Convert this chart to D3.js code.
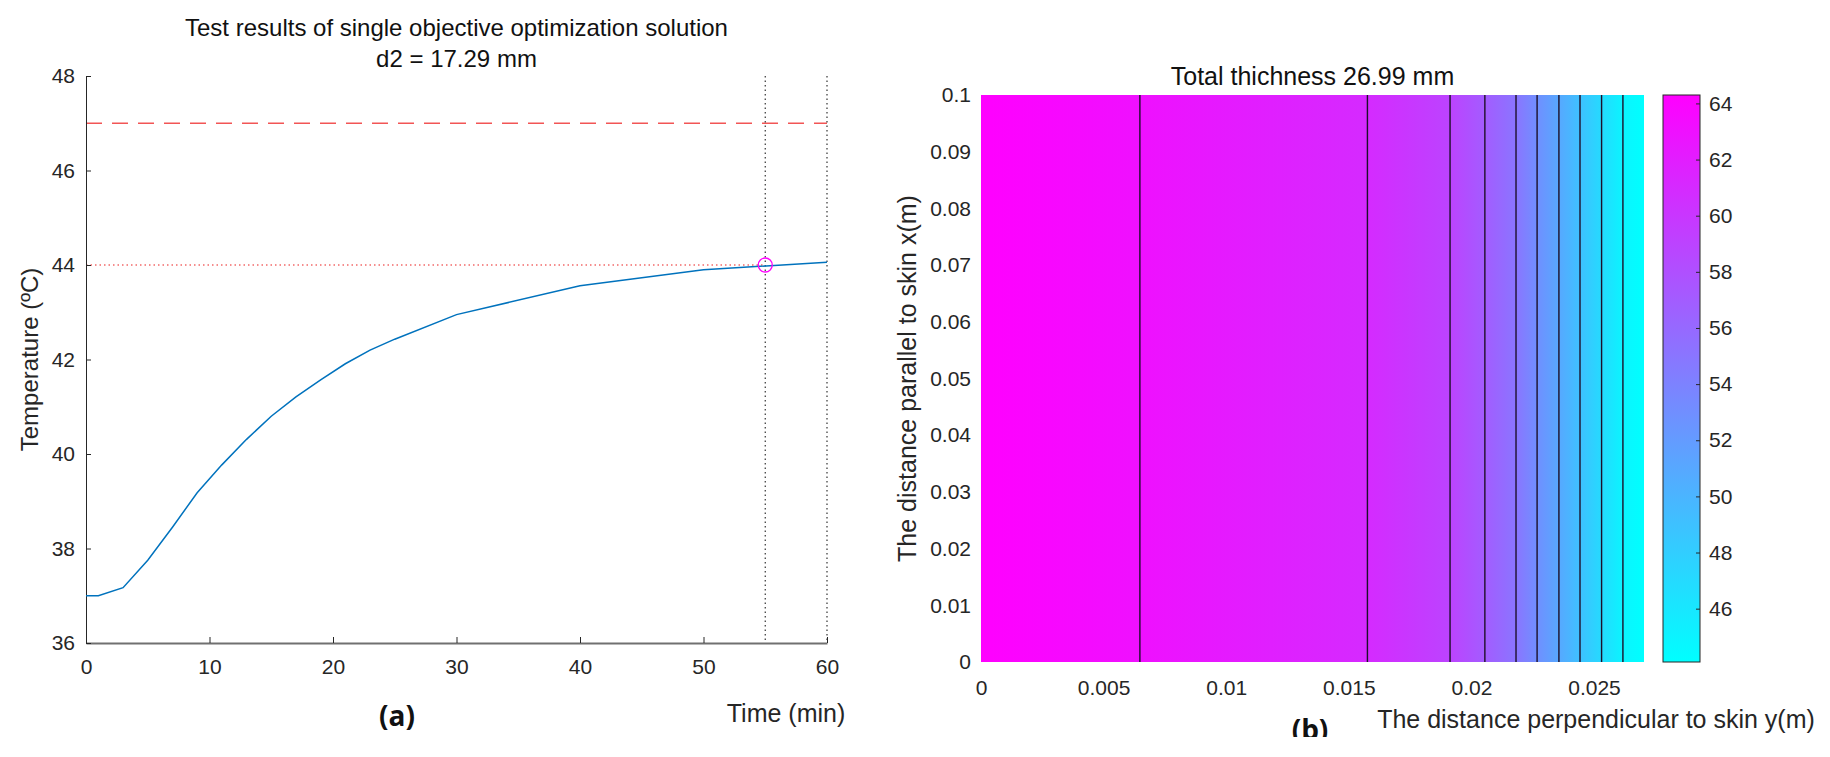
<!DOCTYPE html>
<html>
<head>
<meta charset="utf-8">
<script src="https://cdn.jsdelivr.net/npm/d3@7"></script>
<style>
body { margin:0; background:#fff; }
svg text { font-family:"Liberation Sans", Arial, sans-serif; }
</style>
</head>
<body>
<svg id="fig" width="1830" height="757"></svg>
<script>
// ---- panel (a) data
const times = [0, 1, 3, 5, 7, 9, 11, 13, 15, 17, 19, 21, 23, 25, 30, 40, 50, 60];
const temps = [37.0, 37.0, 37.17, 37.75, 38.45, 39.18, 39.77, 40.31, 40.8, 41.21, 41.57, 41.91, 42.2, 42.43, 42.95, 43.56, 43.9, 44.06];
const timeTicks = [0, 10, 20, 30, 40, 50, 60];
const tempTicks = [36, 38, 40, 42, 44, 46, 48];
const limitTemp = 47;
const targetTemp = 44;
const targetTime = 55;
const endTime = 60;

// ---- panel (b) data
const depthTicks = [0, 0.005, 0.01, 0.015, 0.02, 0.025];
const heightTicks = [0, 0.01, 0.02, 0.03, 0.04, 0.05, 0.06, 0.07, 0.08, 0.09, 0.1];
const contourPos = [0.00648, 0.01576, 0.01913, 0.02055, 0.02182, 0.02268, 0.02357, 0.02443, 0.02531, 0.02618];
const contourLevels = [63, 61, 59, 57, 55, 53, 51, 49, 47, 45];
const edgePos = [0, 0.02704];
const edgeTemp = [64.3, 44.1];
const colorTicks = [46, 48, 50, 52, 54, 56, 58, 60, 62, 64];

const svg = d3.select("#fig");
const defs = svg.append("defs");

function styleTicks(g, size) {
  g.selectAll("text").attr("font-size", size).attr("fill", "#262626")
    .attr("font-family", "Liberation Sans, Arial, sans-serif");
  g.selectAll("line").attr("stroke", "#262626");
}

// ================= panel (a)
const a = {left:86, right:827, top:76, bottom:643};
const x = d3.scaleLinear().domain([0, 60]).range([a.left, a.right]);
const y = d3.scaleLinear().domain([36, 48]).range([a.bottom, a.top]);
const midA = (a.left + a.right) / 2;

// title
svg.append("text").attr("x", midA).attr("y", 36).attr("text-anchor", "middle")
  .attr("font-size", 24).attr("fill", "#111")
  .text("Test results of single objective optimization solution");
svg.append("text").attr("x", midA).attr("y", 67).attr("text-anchor", "middle")
  .attr("font-size", 24).attr("fill", "#111")
  .text("d2 = 17.29 mm");

// reference lines
svg.append("line")
  .attr("x1", x(0)).attr("x2", x(endTime))
  .attr("y1", y(limitTemp)).attr("y2", y(limitTemp))
  .attr("stroke", "#f25555").attr("stroke-width", 1.3).attr("stroke-dasharray", "16,10");
svg.append("line")
  .attr("x1", x(0)).attr("x2", x(targetTime))
  .attr("y1", y(targetTemp)).attr("y2", y(targetTemp))
  .attr("stroke", "#f26a6a").attr("stroke-width", 1.3).attr("stroke-dasharray", "1.5,3");
[targetTime, endTime].forEach(t => {
  svg.append("line")
    .attr("x1", x(t)).attr("x2", x(t))
    .attr("y1", y(48)).attr("y2", y(36))
    .attr("stroke", "#333").attr("stroke-width", 1.2).attr("stroke-dasharray", "1.5,3");
});

// axes
const xAxisA = svg.append("g")
  .attr("transform", `translate(0,${a.bottom})`)
  .call(d3.axisBottom(x).tickValues(timeTicks).tickSizeInner(-6).tickSizeOuter(0).tickPadding(16));
const yAxisA = svg.append("g")
  .attr("transform", `translate(${a.left},0)`)
  .call(d3.axisLeft(y).tickValues(tempTicks).tickSizeInner(-5).tickSizeOuter(0).tickPadding(11));
styleTicks(xAxisA, 21);
styleTicks(yAxisA, 21);
yAxisA.select(".domain").attr("stroke", "#262626");
xAxisA.select(".domain").attr("stroke", "#707070").attr("stroke-width", 2);

// curve
const line = d3.line().x((d, i) => x(times[i])).y(d => y(d));
svg.append("path").datum(temps)
  .attr("d", line).attr("fill", "none")
  .attr("stroke", "#0072BD").attr("stroke-width", 1.5);

// target marker
svg.append("circle")
  .attr("cx", x(targetTime)).attr("cy", y(targetTemp)).attr("r", 7)
  .attr("fill", "none").attr("stroke", "#ff00ff").attr("stroke-width", 1.3);

// labels
svg.append("text")
  .attr("transform", `translate(38,${(a.top + a.bottom) / 2}) rotate(-90)`)
  .attr("text-anchor", "middle").attr("font-size", 24).attr("fill", "#262626")
  .text("Temperature (ºC)");
svg.append("text").attr("x", 786).attr("y", 722).attr("text-anchor", "middle")
  .attr("font-size", 25).attr("fill", "#262626").text("Time (min)");
svg.append("text").attr("x", 397).attr("y", 726).attr("text-anchor", "middle")
  .attr("font-size", 28).attr("font-weight", "bold").attr("fill", "#111")
  .style("font-family", "'Open Sans', 'Noto Sans', sans-serif").text("(a)");

// ================= panel (b)
const b = {left:981, right:1644, top:95, bottom:662};
const xb = d3.scaleLinear().domain(edgePos).range([b.left, b.right]);
const yb = d3.scaleLinear().domain([0, 0.1]).range([b.bottom, b.top]);
// MATLAB "cool" colormap
const color = d3.scaleLinear().domain([edgeTemp[1], edgeTemp[0]]).range(["#00ffff", "#ff00ff"]);

const grad = defs.append("linearGradient").attr("id", "surf")
  .attr("gradientUnits", "userSpaceOnUse")
  .attr("x1", xb(edgePos[0])).attr("x2", xb(edgePos[1])).attr("y1", 0).attr("y2", 0);
const stopPos = [edgePos[0], ...contourPos, edgePos[1]];
const stopTemp = [edgeTemp[0], ...contourLevels, edgeTemp[1]];
stopPos.forEach((p, i) => {
  grad.append("stop")
    .attr("offset", (xb(p) - b.left) / (b.right - b.left))
    .attr("stop-color", color(stopTemp[i]));
});

svg.append("rect")
  .attr("x", xb(edgePos[0])).attr("y", yb(0.1))
  .attr("width", xb(edgePos[1]) - xb(edgePos[0])).attr("height", yb(0) - yb(0.1))
  .attr("fill", "url(#surf)");

// contour lines
svg.append("g").selectAll("line").data(contourPos).enter().append("line")
  .attr("x1", d => xb(d)).attr("x2", d => xb(d))
  .attr("y1", yb(0.1)).attr("y2", yb(0))
  .attr("stroke", "#1d0f2a").attr("stroke-width", 1.4);

// axes (tick labels only, the surface covers the box)
const xAxisB = svg.append("g")
  .attr("transform", `translate(0,${b.bottom})`)
  .call(d3.axisBottom(xb).tickValues(depthTicks).tickFormat(d3.format("")).tickSize(0).tickPadding(18));
const yAxisB = svg.append("g")
  .attr("transform", `translate(${b.left},0)`)
  .call(d3.axisLeft(yb).tickValues(heightTicks).tickFormat(d3.format("")).tickSize(0).tickPadding(10));
[xAxisB, yAxisB].forEach(g => {
  g.select(".domain").remove();
  styleTicks(g, 21);
});

svg.append("text").attr("x", (b.left + b.right) / 2).attr("y", 85).attr("text-anchor", "middle")
  .attr("font-size", 25).attr("fill", "#111").text("Total thichness 26.99 mm");
svg.append("text")
  .attr("transform", `translate(916,${(b.top + b.bottom) / 2}) rotate(-90)`)
  .attr("text-anchor", "middle").attr("font-size", 25).attr("fill", "#262626")
  .text("The distance parallel to skin x(m)");
svg.append("text").attr("x", 1596).attr("y", 728).attr("text-anchor", "middle")
  .attr("font-size", 25).attr("fill", "#262626")
  .text("The distance perpendicular to skin y(m)");

// "(b)" is cut off at the bottom in the original figure
defs.append("clipPath").attr("id", "cutB")
  .append("rect").attr("x", 1250).attr("y", 690).attr("width", 120).attr("height", 47);
svg.append("text").attr("x", 1310).attr("y", 740).attr("text-anchor", "middle")
  .attr("clip-path", "url(#cutB)")
  .attr("font-size", 28).attr("font-weight", "bold").attr("fill", "#111")
  .style("font-family", "'Open Sans', 'Noto Sans', sans-serif").text("(b)");

// colorbar
const cb = {left:1663, right:1700};
const yc = d3.scaleLinear().domain([edgeTemp[1], edgeTemp[0]]).range([b.bottom, b.top]);
const cgrad = defs.append("linearGradient").attr("id", "cbar")
  .attr("x1", 0).attr("x2", 0).attr("y1", 1).attr("y2", 0);
cgrad.append("stop").attr("offset", 0).attr("stop-color", color(edgeTemp[1]));
cgrad.append("stop").attr("offset", 1).attr("stop-color", color(edgeTemp[0]));
svg.append("rect")
  .attr("x", cb.left).attr("y", b.top)
  .attr("width", cb.right - cb.left).attr("height", b.bottom - b.top)
  .attr("fill", "url(#cbar)").attr("stroke", "#262626").attr("stroke-width", 1);
const cAxis = svg.append("g")
  .attr("transform", `translate(${cb.right},0)`)
  .call(d3.axisRight(yc).tickValues(colorTicks).tickSizeInner(-4).tickSizeOuter(0).tickPadding(9));
cAxis.select(".domain").remove();
styleTicks(cAxis, 21);
</script>
</body>
</html>
